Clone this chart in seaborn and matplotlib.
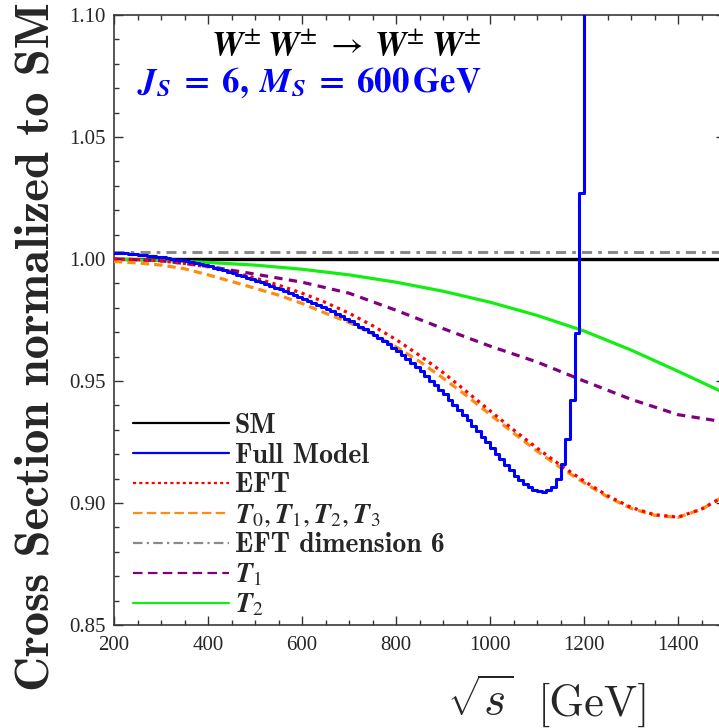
import numpy as np
import pandas as pd
import matplotlib
matplotlib.use("Agg")
import matplotlib.pyplot as plt
from matplotlib.ticker import MultipleLocator, FormatStrFormatter
from matplotlib.font_manager import FontProperties
import seaborn as sns

sns.set_style("ticks")
plt.rcParams["font.family"] = ["Liberation Serif", "DejaVu Serif"]
plt.rcParams["mathtext.fontset"] = "cm"

# ---------------------------------------------------------------------------
# Data: cross section normalised to the Standard Model, W+-W+- -> W+-W+-
# ---------------------------------------------------------------------------
# constant reference lines
sm_energy = [200, 1500]
sm_ratio = [1.0, 1.0]
dim6_energy = [200, 1500]
dim6_ratio = [1.0028, 1.0028]

# T1 and T2 operators (every 100 GeV)
t_energy = [200, 300, 400, 500, 600, 700, 800, 900, 1000, 1100, 1200, 1300, 1400, 1500]
t2_ratio = [1.0000, 0.9994, 0.9986, 0.9975, 0.9958, 0.9935, 0.9905, 0.9868,
            0.9823, 0.9769, 0.9705, 0.9627, 0.9540, 0.9450]
t1_ratio = [1.0000, 0.9993, 0.9970, 0.9938, 0.9905, 0.9860, 0.9790, 0.9715,
            0.9643, 0.9578, 0.9500, 0.9425, 0.9362, 0.9332]

# full EFT and T0..T3 sum (every 50 GeV)
eft_energy = [200, 250, 300, 350, 400, 450, 500, 550, 600, 650, 700, 750, 800,
              850, 900, 950, 1000, 1050, 1100, 1150, 1200, 1250, 1300, 1350,
              1400, 1450, 1500]
eft_ratio = [1.0000, 0.9998, 0.9992, 0.9982, 0.9968, 0.9948, 0.9922, 0.9893,
             0.9860, 0.9822, 0.9778, 0.9727, 0.9670, 0.9605, 0.9535, 0.9457,
             0.9378, 0.9300, 0.9225, 0.9155, 0.9090, 0.9030, 0.8982, 0.8952,
             0.8942, 0.8975, 0.9030]
t0123_ratio = [0.9990, 0.9984, 0.9975, 0.9960, 0.9935, 0.9908, 0.9880, 0.9852,
               0.9818, 0.9778, 0.9740, 0.9693, 0.9640, 0.9580, 0.9512, 0.9440,
               0.9363, 0.9287, 0.9213, 0.9145, 0.9083, 0.9025, 0.8978, 0.8950,
               0.8941, 0.8974, 0.9030]

# full model, histogrammed in 10 GeV bins (lower bin edges 200 ... 1200)
full_edges = np.arange(200, 1210, 10)
full_ratio = [
    1.0026, 1.0025, 1.0023, 1.0021, 1.0020, 1.0018, 1.0016, 1.0014, 1.0011, 1.0009,
    1.0007, 1.0004, 1.0000, 0.9997, 0.9994, 0.9990, 0.9986, 0.9982, 0.9978, 0.9974,
    0.9970, 0.9965, 0.9959, 0.9954, 0.9948, 0.9942, 0.9936, 0.9930, 0.9924, 0.9917,
    0.9911, 0.9904, 0.9897, 0.9890, 0.9883, 0.9876, 0.9868, 0.9861, 0.9853, 0.9846,
    0.9838, 0.9829, 0.9821, 0.9812, 0.9804, 0.9795, 0.9785, 0.9775, 0.9765, 0.9755,
    0.9745, 0.9734, 0.9723, 0.9712, 0.9701, 0.9690, 0.9677, 0.9663, 0.9650, 0.9636,
    0.9622, 0.9606, 0.9589, 0.9573, 0.9556, 0.9540, 0.9521, 0.9502, 0.9483, 0.9464,
    0.9445, 0.9424, 0.9403, 0.9382, 0.9361, 0.9340, 0.9317, 0.9294, 0.9271, 0.9248,
    0.9225, 0.9202, 0.9180, 0.9157, 0.9135, 0.9112, 0.9093, 0.9077, 0.9064, 0.9055,
    0.9049, 0.9045, 0.9052, 0.9065, 0.9100, 0.9160, 0.9262, 0.9423, 0.9696, 1.0270,
    1.1500,
]

x_ticks = [200, 400, 600, 800, 1000, 1200, 1400]
y_ticks = [0.85, 0.90, 0.95, 1.00, 1.05, 1.10]

LBL_T0123 = r"$\boldsymbol{T}_{0}, \boldsymbol{T}_{1}, \boldsymbol{T}_{2}, \boldsymbol{T}_{3}$"
LBL_T1 = r"$\boldsymbol{T}_{1}$"
LBL_T2 = r"$\boldsymbol{T}_{2}$"

# ---------------------------------------------------------------------------
W, H = 719, 728
fig = plt.figure(figsize=(W / 100, H / 100), dpi=100)
ax = fig.add_axes([114 / W, 103 / H, 611 / W, 610 / H])

sns.lineplot(x=sm_energy, y=sm_ratio, ax=ax, color="black", lw=2.4,
             label="SM", zorder=2)
sns.lineplot(x=dim6_energy, y=dim6_ratio, ax=ax, color="#8a8a8a", lw=2.2,
             linestyle=(0, (3.3, 2.0, 1.2, 2.0)), label="EFT dimension 6", zorder=2)
sns.lineplot(x=t_energy, y=t2_ratio, ax=ax, color="#12ee12", lw=2.3,
             label=LBL_T2, zorder=3)
sns.lineplot(x=t_energy, y=t1_ratio, ax=ax, color="#800080", lw=2.3,
             linestyle=(0, (2.6, 2.0)), label=LBL_T1, zorder=3)
sns.lineplot(x=eft_energy, y=t0123_ratio, ax=ax, color="#ff8c10", lw=2.3,
             linestyle=(0, (2.6, 1.6)), label=LBL_T0123, zorder=4)
sns.lineplot(x=eft_energy, y=eft_ratio, ax=ax, color="#ff0000", lw=2.3,
             linestyle=(0, (1.0, 1.4)), label="EFT", zorder=5)
sns.lineplot(x=full_edges, y=full_ratio, ax=ax, color="#0000ff", lw=2.2,
             drawstyle="steps-post", label="Full Model", zorder=6)

ax.set_xlim(200, 1500)
ax.set_ylim(0.85, 1.10)
ax.set_xticks(x_ticks)
ax.set_yticks(y_ticks)
ax.xaxis.set_minor_locator(MultipleLocator(50))
ax.yaxis.set_minor_locator(MultipleLocator(0.01))
ax.yaxis.set_major_formatter(FormatStrFormatter("%.2f"))
ax.tick_params(which="both", direction="in", top=True, right=True,
               color="#333333", width=1.0, labelsize=15)
ax.tick_params(which="major", length=6.5)
ax.tick_params(which="minor", length=3.6)
ax.tick_params(axis="x", pad=8)
ax.tick_params(axis="y", pad=6)
for s in ax.spines.values():
    s.set_linewidth(1.2)
    s.set_color("#3a3a3a")
ax.set_xlabel("")
ax.set_ylabel("")

# legend in the customary order, with thinner sample lines
handles, labels = ax.get_legend_handles_labels()
lookup = dict(zip(labels, handles))
order = ["SM", "Full Model", "EFT", LBL_T0123, "EFT dimension 6", LBL_T1, LBL_T2]
leg_size = 20
leg_font = FontProperties(family="cmb10", size=leg_size, math_fontfamily="stix")
fsz_px = leg_size * 100 / 72
leg = ax.legend([lookup[k] for k in order], order, prop=leg_font, frameon=False,
                loc="upper left", bbox_to_anchor=(133 / W, 1 - 413 / H),
                bbox_transform=fig.transFigure, borderpad=0, borderaxespad=0,
                handlelength=96 / fsz_px, handletextpad=6 / fsz_px,
                labelspacing=0.13)
leg_styles = {
    "SM": "-",
    "Full Model": "-",
    "EFT": (0, (1.4, 1.4)),
    LBL_T0123: (0, (4.3, 1.9)),
    "EFT dimension 6": (0, (4.3, 1.9, 1.0, 1.9)),
    LBL_T1: (0, (4.3, 2.4)),
    LBL_T2: "-",
}
for line, name in zip(leg.get_lines(), order):
    line.set_linewidth(1.6)
    line.set_linestyle(leg_styles[name])

# process and model annotation
proc_text = fig.text(481 / W, 1 - 59 / H,
                     r"$\boldsymbol{W}^{\pm}\:\boldsymbol{W}^{\pm}\;\rightarrow\;\boldsymbol{W}^{\pm}\:\boldsymbol{W}^{\pm}$",
                     ha="right", va="baseline", fontsize=25.5, color="black",
                     math_fontfamily="stix")
model_text = fig.text(481 / W, 1 - 89 / H,
                      r"$\boldsymbol{J}_{\boldsymbol{S}}\;\mathbf{=}\;\mathbf{6,}\;\boldsymbol{M}_{\boldsymbol{S}}\;\mathbf{=}\;\mathbf{600\,GeV}$",
                      ha="right", va="baseline", fontsize=25, color="#0000ff",
                      math_fontfamily="stix")

# keep the two annotation lines from touching
fig.canvas.draw()
renderer = fig.canvas.get_renderer()
b_top = proc_text.get_window_extent(renderer)
b_bot = model_text.get_window_extent(renderer)
gap = b_bot.y1 - b_top.y0 + 1.0
if gap > 0:
    x0, y0 = proc_text.get_position()
    proc_text.set_position((x0, y0 + 0.5 * gap / H))
    x1, y1 = model_text.get_position()
    model_text.set_position((x1, y1 - 0.5 * gap / H))

# axis titles
fig.text(37 / W, 1 - 347 / H, "Cross Section normalized to SM", rotation=90,
         ha="center", va="center", fontsize=35, family="cmb10")
fig.text(447 / W, 1 - 716 / H, r"$\sqrt{s}$", ha="left", va="baseline",
         fontsize=34, math_fontfamily="cm")
fig.text(650 / W, 1 - 716 / H, "[GeV]", ha="right", va="baseline",
         fontsize=32, family="cmr10")

fig.savefig("out.png", dpi=100)
